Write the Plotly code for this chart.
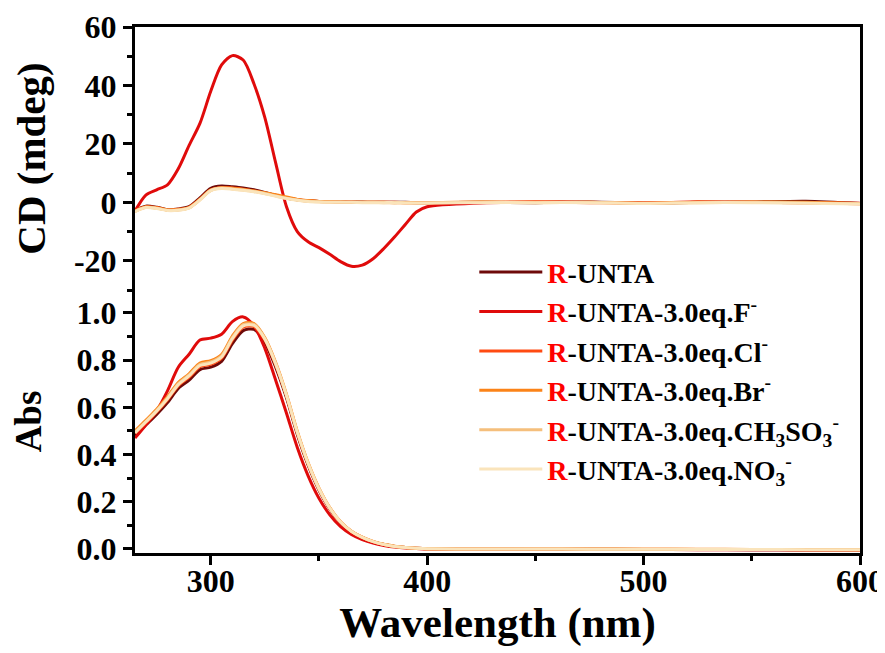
import plotly.graph_objects as go

wavelength = [265, 270, 275, 280, 285, 290, 295, 300, 305, 310, 315, 320, 325, 330, 335, 340,
              345, 350, 355, 360, 365, 370, 375, 380, 385, 390, 395, 400,
              425, 450, 475, 500, 525, 550, 575, 600]

series_names = [
    "<span style='color:#ff0000'>R</span>-UNTA",
    "<span style='color:#ff0000'>R</span>-UNTA-3.0eq.F<sup>-</sup>",
    "<span style='color:#ff0000'>R</span>-UNTA-3.0eq.Cl<sup>-</sup>",
    "<span style='color:#ff0000'>R</span>-UNTA-3.0eq.Br<sup>-</sup>",
    "<span style='color:#ff0000'>R</span>-UNTA-3.0eq.CH<sub>3</sub>SO<sub>3</sub><sup>-</sup>",
    "<span style='color:#ff0000'>R</span>-UNTA-3.0eq.NO<sub>3</sub><sup>-</sup>",
]
series_colors = ["#6e0a0a", "#e00b0b", "#ff4a12", "#fb8318", "#f5bf7c", "#fae4bb"]

# CD (mdeg)
cd_unta = [-2.8, -1.3, -1.7, -2.5, -2.3, -1.5, 1.5, 4.8, 5.6, 5.3, 4.9, 4.3, 3.4, 2.4, 1.5, 0.9,
           0.5, 0.3, 0.3, 0.2, 0.1, 0.1, 0.0, 0.0, 0.0, 0.0, -0.1, -0.1,
           0.0, -0.1, 0.1, -0.3, 0.0, 0.1, 0.4, -0.4]
cd_f = [-3.0, 2.5, 4.3, 6.0, 11.5, 19.5, 27.0, 38.0, 47.0, 50.2, 48.7, 40.5, 29.0, 13.5, -1.5, -10.0,
        -13.5, -15.5, -17.8, -20.3, -21.9, -21.5, -19.3, -15.8, -11.8, -7.5, -3.3, -1.5,
        -0.2, 0.1, 0.0, -0.2, 0.1, 0.0, -0.1, -0.3]
cd_cl = [-2.9, -1.5, -1.8, -2.6, -2.4, -1.7, 1.1, 4.3, 5.1, 4.9, 4.5, 3.9, 3.2, 2.4, 1.6, 0.9,
         0.5, 0.3, 0.2, 0.1, 0.1, 0.0, 0.0, 0.0, 0.0, -0.1, -0.1, -0.1,
         0.0, 0.1, -0.1, -0.2, 0.1, 0.0, -0.1, -0.5]
cd_br = [-3.0, -1.6, -1.9, -2.6, -2.5, -1.8, 1.0, 4.2, 5.0, 4.8, 4.4, 3.9, 3.3, 2.6, 1.8, 1.0,
         0.6, 0.3, 0.2, 0.1, 0.0, 0.0, 0.0, 0.0, -0.1, -0.1, -0.1, -0.1,
         0.1, 0.0, 0.0, -0.3, 0.0, 0.1, 0.0, -0.4]
cd_ch3so3 = [-3.1, -1.7, -2.0, -2.7, -2.6, -1.9, 0.9, 4.1, 4.9, 4.6, 4.2, 3.7, 3.0, 2.2, 1.4, 0.8,
             0.4, 0.2, 0.1, 0.1, 0.0, 0.0, 0.0, -0.1, -0.1, -0.1, -0.2, -0.2,
             0.0, -0.1, 0.0, -0.3, -0.1, 0.0, -0.2, -0.5]
cd_no3 = [-3.2, -1.8, -2.1, -2.8, -2.7, -2.0, 0.8, 4.0, 4.7, 4.5, 4.1, 3.6, 2.9, 2.1, 1.3, 0.7,
          0.3, 0.1, 0.0, 0.0, 0.0, -0.1, -0.1, -0.1, -0.1, -0.2, -0.2, -0.2,
          -0.1, -0.1, -0.1, -0.4, -0.1, -0.1, -0.3, -0.6]

# Absorbance
abs_unta = [0.480, 0.525, 0.570, 0.620, 0.680, 0.715, 0.760, 0.770, 0.795, 0.870, 0.925, 0.930,
            0.875, 0.770, 0.640, 0.485, 0.355, 0.250, 0.170, 0.112, 0.073, 0.048, 0.030, 0.019,
            0.011, 0.006, 0.003, 0.001, 0.000, -0.001, -0.001, -0.002, -0.002, -0.003, -0.004, -0.004]
abs_f = [0.470, 0.525, 0.585, 0.670, 0.770, 0.825, 0.885, 0.893, 0.910, 0.963, 0.983, 0.945,
         0.850, 0.715, 0.575, 0.430, 0.310, 0.215, 0.145, 0.095, 0.062, 0.040, 0.025, 0.015,
         0.008, 0.004, 0.002, 0.000, -0.001, -0.001, -0.002, -0.002, -0.003, -0.003, -0.004, -0.004]
abs_cl = [0.490, 0.535, 0.580, 0.632, 0.692, 0.728, 0.772, 0.782, 0.808, 0.885, 0.940, 0.942,
          0.885, 0.780, 0.648, 0.492, 0.360, 0.254, 0.172, 0.113, 0.074, 0.049, 0.031, 0.019,
          0.011, 0.006, 0.003, 0.001, 0.000, 0.000, -0.001, -0.001, -0.002, -0.002, -0.003, -0.003]
abs_br = [0.500, 0.545, 0.592, 0.645, 0.705, 0.742, 0.788, 0.798, 0.824, 0.902, 0.955, 0.955,
          0.895, 0.790, 0.655, 0.498, 0.365, 0.258, 0.175, 0.115, 0.075, 0.050, 0.032, 0.020,
          0.012, 0.006, 0.003, 0.001, 0.000, 0.000, 0.000, -0.001, -0.001, -0.002, -0.002, -0.003]
abs_ch3so3 = [0.495, 0.540, 0.587, 0.640, 0.700, 0.737, 0.782, 0.792, 0.818, 0.896, 0.950, 0.951,
              0.892, 0.787, 0.652, 0.496, 0.363, 0.256, 0.174, 0.114, 0.075, 0.049, 0.031, 0.019,
              0.011, 0.006, 0.003, 0.001, 0.000, 0.000, -0.001, -0.001, -0.002, -0.002, -0.003, -0.003]
abs_no3 = [0.492, 0.538, 0.584, 0.636, 0.696, 0.733, 0.777, 0.787, 0.813, 0.891, 0.945, 0.947,
           0.889, 0.784, 0.650, 0.494, 0.362, 0.255, 0.173, 0.114, 0.074, 0.049, 0.031, 0.019,
           0.011, 0.006, 0.003, 0.001, 0.000, 0.000, -0.001, -0.001, -0.002, -0.002, -0.003, -0.003]

cd_series = [cd_unta, cd_f, cd_cl, cd_br, cd_ch3so3, cd_no3]
abs_series = [abs_unta, abs_f, abs_cl, abs_br, abs_ch3so3, abs_no3]

x_ticks = [300, 400, 500, 600]
cd_ticks = [-20, 0, 20, 40, 60]
cd_ticklabels = ["-20", "0", "20", "40", "60"]
abs_ticks = [0.0, 0.2, 0.4, 0.6, 0.8, 1.0]

FONT = "Liberation Serif"

fig = go.Figure()
for i, name in enumerate(series_names):
    fig.add_trace(go.Scatter(
        x=wavelength, y=cd_series[i], mode="lines", name=name,
        line=dict(color=series_colors[i], width=3, shape="spline", smoothing=0.8),
        xaxis="x2", yaxis="y2", legendgroup=f"g{i}", showlegend=False, hoverinfo="skip"))
for i, name in enumerate(series_names):
    fig.add_trace(go.Scatter(
        x=wavelength, y=abs_series[i], mode="lines", name=name,
        line=dict(color=series_colors[i], width=3, shape="spline", smoothing=0.8),
        xaxis="x", yaxis="y", legendgroup=f"g{i}", showlegend=True, hoverinfo="skip"))

tickfont = dict(family=FONT, size=32, color="black", weight="bold")
common_axis = dict(showline=True, linewidth=3, linecolor="black", ticks="outside",
                   tickwidth=3, ticklen=9, tickcolor="black", showgrid=False, zeroline=False,
                   tickfont=tickfont, automargin=False)

fig.update_layout(
    width=885, height=653,
    margin=dict(l=127, r=33, t=19, b=108),
    paper_bgcolor="white", plot_bgcolor="white",
    font=dict(family=FONT, color="black"),
    xaxis=dict(domain=[0, 1], anchor="y", range=[265, 600], tickvals=x_ticks,
               ticklabelstandoff=-11,
               minor=dict(dtick=50, ticks="outside", ticklen=5, tickwidth=3, tickcolor="black"),
               title=dict(text="Wavelength (nm)",
                          font=dict(family=FONT, size=43, color="black", weight="bold"),
                          standoff=0),
               **common_axis),
    xaxis2=dict(domain=[0, 1], anchor="y2", matches="x", range=[265, 600], side="top",
                showline=True, linewidth=3, linecolor="black", ticks="",
                showticklabels=False, showgrid=False, zeroline=False, automargin=False),
    yaxis=dict(domain=[0, 0.5], anchor="x", range=[-0.017, 1.097], tickvals=abs_ticks,
               tickformat=".1f", mirror=True,
               minor=dict(dtick=0.1, tick0=0, ticks="outside", ticklen=5, tickwidth=3, tickcolor="black"),
               title=dict(text="Abs", font=dict(family=FONT, size=37, color="black", weight="bold"),
                          standoff=26),
               **common_axis),
    yaxis2=dict(domain=[0.5, 1], anchor="x2", range=[-30, 60], tickvals=cd_ticks,
                ticktext=cd_ticklabels, mirror=True,
                minor=dict(dtick=10, tick0=0, ticks="outside", ticklen=5, tickwidth=3, tickcolor="black"),
                title=dict(text="CD (mdeg)", font=dict(family=FONT, size=41, color="black", weight="bold"),
                           standoff=18),
                **common_axis),
    legend=dict(x=0.468, y=0.581, xanchor="left", yanchor="top", bgcolor="rgba(0,0,0,0)",
                font=dict(family=FONT, size=28, color="black", weight="bold"),
                itemwidth=63, tracegroupgap=3, traceorder="normal"),
)

fig.write_html("out.html")
